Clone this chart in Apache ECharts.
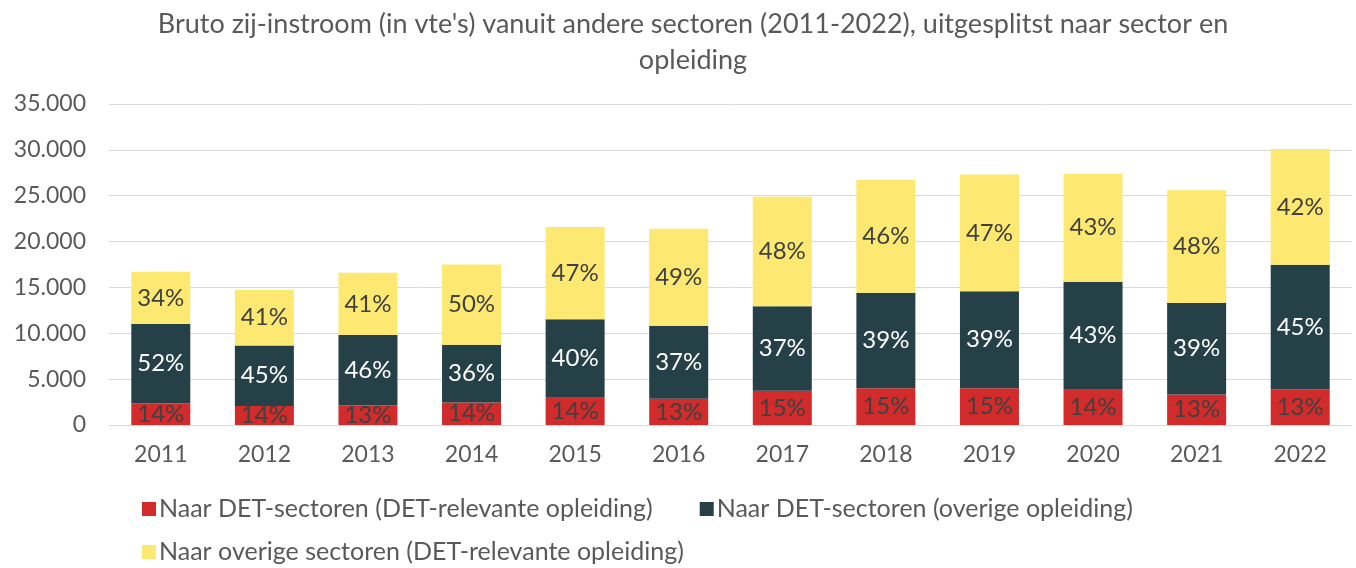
<!DOCTYPE html>
<html>
<head>
<meta charset="utf-8">
<script src="https://cdn.jsdelivr.net/npm/echarts@6/dist/echarts.min.js"></script>
<style>
  html, body { margin: 0; padding: 0; background: #fff; }
  #chart { width: 1356px; height: 568px; }
</style>
</head>
<body>
<div id="chart"></div>
<script>
const years = ['2011', '2012', '2013', '2014', '2015', '2016', '2017', '2018', '2019', '2020', '2021', '2022'];

// vte's per segment
const detRelevant = [2340, 2060, 2160, 2450, 2980, 2850, 3740, 4010, 4010, 3840, 3330, 3910];
const detOverig = [8680, 6620, 7640, 6300, 8550, 7980, 9210, 10410, 10570, 11780, 9980, 13550];
const overigRelevant = [5680, 6030, 6810, 8750, 10070, 10570, 11950, 12280, 12720, 11780, 12290, 12640];

const seriesNames = [
  'Naar DET-sectoren (DET-relevante opleiding)',
  'Naar DET-sectoren (overige opleiding)',
  'Naar overige sectoren (DET-relevante opleiding)'
];

const totals = years.map((y, i) => detRelevant[i] + detOverig[i] + overigRelevant[i]);

const font = 'Lato, "Open Sans", sans-serif';
const textColor = '#595959';

function pctLabel(color) {
  return {
    show: true,
    position: 'inside',
    color: color,
    fontSize: 24,
    fontFamily: font,
    formatter: (p) => Math.round(p.value / totals[p.dataIndex] * 100) + '%'
  };
}

function bar(name, data, color, labelColor) {
  return {
    name: name,
    type: 'bar',
    stack: 'total',
    barWidth: 59,
    data: data,
    itemStyle: { color: color },
    label: pctLabel(labelColor)
  };
}

const legendText = { color: textColor, fontSize: 25, fontFamily: font, lineHeight: 28, padding: [0, 0, 0, -2] };

const chart = echarts.init(document.getElementById('chart'));

chart.setOption({
  animation: false,
  textStyle: { fontFamily: font },
  title: {
    text: "Bruto zij-instroom (in vte's) vanuit andere sectoren (2011-2022), uitgesplitst naar sector en\nopleiding",
    left: 688,
    textAlign: 'center',
    top: 1,
    textStyle: {
      color: textColor,
      fontSize: 27,
      fontWeight: 'normal',
      fontFamily: font,
      lineHeight: 36
    }
  },
  legend: [
    {
      left: 137,
      top: 490,
      itemWidth: 14,
      itemHeight: 14,
      itemGap: 47,
      icon: 'rect',
      textStyle: legendText,
      data: seriesNames.slice(0, 2)
    },
    {
      left: 137,
      top: 533,
      itemWidth: 14,
      itemHeight: 14,
      icon: 'rect',
      textStyle: legendText,
      data: seriesNames.slice(2)
    }
  ],
  grid: { left: 109, right: 4, top: 104, bottom: 143 },
  xAxis: {
    type: 'category',
    data: years,
    axisLine: { lineStyle: { color: '#d9d9d9', width: 1 } },
    axisTick: { show: false },
    axisLabel: { color: textColor, fontSize: 23, margin: 18, fontFamily: font }
  },
  yAxis: {
    type: 'value',
    min: 0,
    max: 35000,
    interval: 5000,
    axisLine: { show: false },
    axisTick: { show: false },
    splitLine: { lineStyle: { color: '#d9d9d9', width: 1 } },
    axisLabel: {
      color: textColor,
      fontSize: 23,
      margin: 23,
      fontFamily: font,
      formatter: (v) => v.toString().replace(/\B(?=(\d{3})+(?!\d))/g, '.')
    }
  },
  series: [
    bar(seriesNames[0], detRelevant, '#D22B2B', '#404040'),
    bar(seriesNames[1], detOverig, '#254147', '#ffffff'),
    bar(seriesNames[2], overigRelevant, '#FDE971', '#404040')
  ]
});
</script>
</body>
</html>
